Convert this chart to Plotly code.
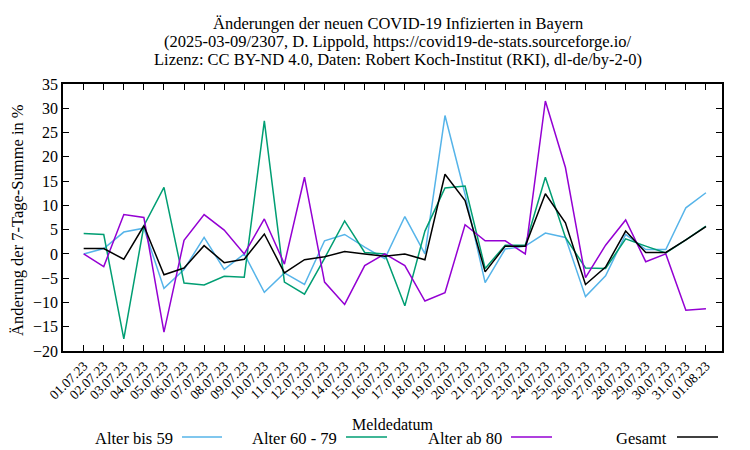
import plotly.graph_objects as go

dates = ["01.07.23", "02.07.23", "03.07.23", "04.07.23", "05.07.23", "06.07.23", "07.07.23", "08.07.23",
         "09.07.23", "10.07.23", "11.07.23", "12.07.23", "13.07.23", "14.07.23", "15.07.23", "16.07.23",
         "17.07.23", "18.07.23", "19.07.23", "20.07.23", "21.07.23", "22.07.23", "23.07.23", "24.07.23",
         "25.07.23", "26.07.23", "27.07.23", "28.07.23", "29.07.23", "30.07.23", "31.07.23", "01.08.23"]

alter_bis_59 = [0, 1.1, 4.5, 5.3, -7.1, -3.2, 3.4, -3.2, 0, -7.9, -3.9, -6.3, 2.7, 4.0, 1.4, -1.0,
                7.7, 0, 28.5, 12.3, -5.9, 1.0, 1.6, 4.3, 3.4, -8.8, -4.5, 4.0, 0.9, 0.9, 9.5, 12.6]
alter_60_79 = [4.2, 4.0, -17.5, 5.8, 13.7, -6.0, -6.4, -4.6, -4.8, 27.4, -5.8, -8.3, -0.9, 6.8, 0.3, 0,
               -10.7, 4.7, 13.6, 14.0, -3.0, 1.8, 1.8, 15.8, 3.4, -2.9, -3.0, 3.1, 1.6, 0.2, 2.9, 5.7]
alter_ab_80 = [0, -2.6, 8.1, 7.5, -16.1, 2.8, 8.1, 4.9, 0, 7.2, -2.1, 15.8, -5.8, -10.4, -2.4, 0,
               -2.4, -9.7, -8.0, 6.0, 2.7, 2.7, 0, 31.5, 17.8, -4.9, 1.8, 7.0, -1.6, 0, -11.6, -11.3]
gesamt = [1.1, 1.1, -1.1, 5.8, -4.3, -2.9, 1.7, -1.8, -1.1, 4.1, -3.9, -1.2, -0.6, 0.5, 0, -0.5,
          0, -1.2, 16.4, 11.0, -3.7, 1.6, 1.6, 12.4, 6.4, -6.3, -2.7, 4.7, 0.3, 0.3, 2.9, 5.6]

series_names = ["Alter bis 59", "Alter 60 - 79", "Alter ab 80", "Gesamt"]
series_values = [alter_bis_59, alter_60_79, alter_ab_80, gesamt]
series_colors = ["#56b4e9", "#009e73", "#9400d3", "#000000"]

title_lines = [
    "Änderungen der neuen COVID-19 Infizierten in Bayern",
    "(2025-03-09/2307, D. Lippold, https://covid19-de-stats.sourceforge.io/",
    "Lizenz: CC BY-ND 4.0, Daten: Robert Koch-Institut (RKI), dl-de/by-2-0)",
]

y_ticks = [35, 30, 25, 20, 15, 10, 5, 0, -5, -10, -15, -20]

W, H = 750, 450
L, R, T, B = 63, 722, 84, 351
FONT = "Liberation Serif, Times New Roman, serif"


def px(x):
    return (x - L) / (R - L)


def py(y):
    return (B - y) / (B - T)


idx = list(range(len(dates)))

fig = go.Figure()
for name, vals, col in zip(series_names, series_values, series_colors):
    fig.add_trace(go.Scatter(x=idx, y=vals, mode="lines", name=name,
                             line=dict(color=col, width=1.5), showlegend=False))

fig.update_layout(
    width=W, height=H,
    margin=dict(l=L, r=W - R, t=T, b=H - B),
    paper_bgcolor="white", plot_bgcolor="white",
    font=dict(family=FONT, size=16, color="black"),
)
fig.update_xaxes(
    range=[-1.03, 31.8], tickmode="array", tickvals=idx, ticktext=dates,
    tickangle=-45, ticks="inside", ticklen=6, tickcolor="black", tickwidth=1,
    showline=True, linecolor="black", linewidth=1.5, mirror="ticks",
    showgrid=False, zeroline=False, tickfont=dict(size=13.5),
)
fig.update_yaxes(
    range=[-20, 35], tickmode="array", tickvals=y_ticks,
    ticks="inside", ticklen=6, tickcolor="black", tickwidth=1,
    showline=True, linecolor="black", linewidth=1.5, mirror="ticks",
    showgrid=False, zeroline=False, tickfont=dict(size=16),
)

annotations = []
for line, ypix in zip(title_lines, [23, 41, 59]):
    annotations.append(dict(text=line, x=px(398), y=py(ypix), xref="paper", yref="paper",
                            xanchor="center", yanchor="middle", showarrow=False,
                            font=dict(size=16.5)))
annotations += [
    dict(text="Änderung der 7-Tage-Summe in %", textangle=-90,
         x=px(17), y=py(220), xref="paper", yref="paper", xanchor="center", yanchor="middle",
         showarrow=False, font=dict(size=16.5)),
    dict(text="Meldedatum", x=px(392), y=py(424), xref="paper", yref="paper",
         xanchor="center", yanchor="middle", showarrow=False, font=dict(size=16)),
]

legend_text_end = [175, 339, 504, 669]
legend_line = [(182, 222), (346, 387), (511, 552), (677, 718)]
shapes = []
for name, col, tx, (x0, x1) in zip(series_names, series_colors, legend_text_end, legend_line):
    annotations.append(dict(text=name, x=px(tx), y=py(438), xref="paper", yref="paper",
                            xanchor="right", yanchor="middle", showarrow=False, font=dict(size=16.5)))
    shapes.append(dict(type="line", xref="paper", yref="paper", x0=px(x0), x1=px(x1),
                       y0=py(437), y1=py(437), line=dict(color=col, width=1.5)))

fig.update_layout(annotations=annotations, shapes=shapes)
fig.write_html("out.html", config={"displayModeBar": False},
               post_script="document.body.style.margin='0px';document.body.style.overflow='hidden';")
